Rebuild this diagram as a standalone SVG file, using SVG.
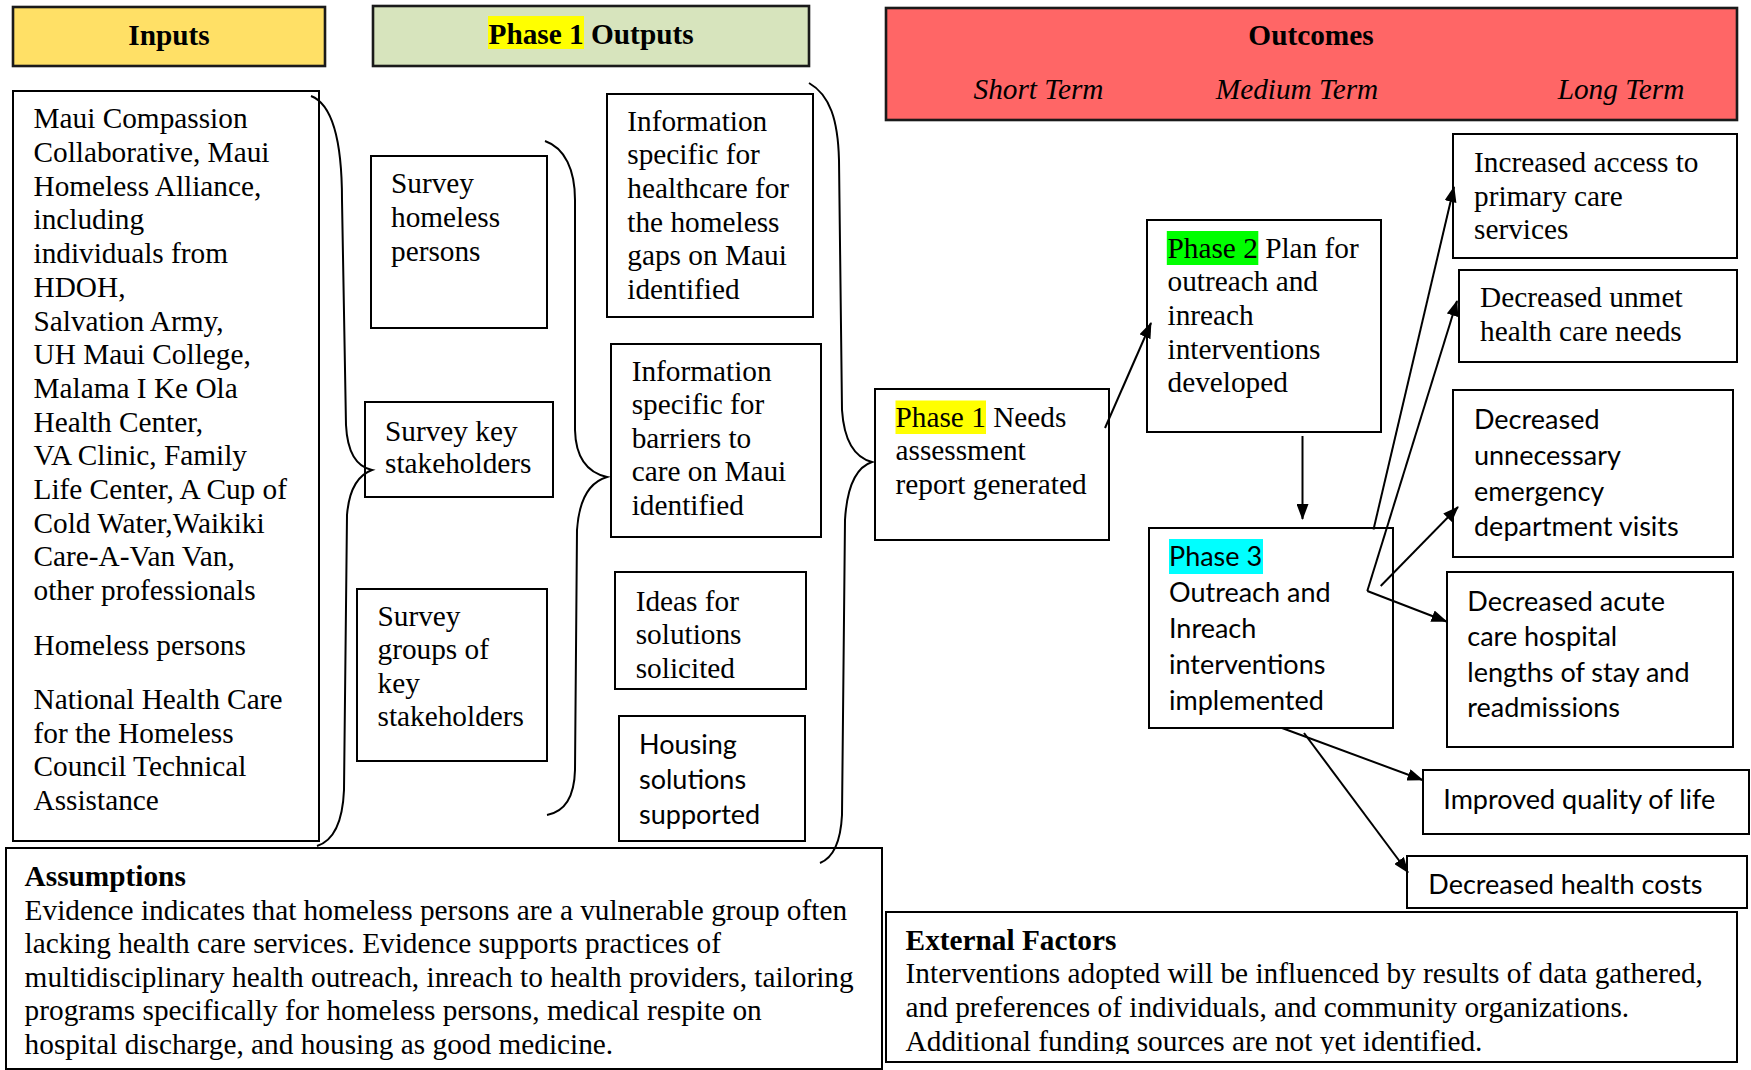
<svg xmlns="http://www.w3.org/2000/svg" width="1751" height="1070" viewBox="0 0 1751 1070">
<style>
.box{fill:#fff;stroke:#000;stroke-width:2}
.hdr{stroke:#1a1a1a;stroke-width:2.6}
.t{font-family:"Liberation Serif","Times New Roman",serif;font-size:29.3px;fill:#000}
.s{font-family:Lato,"Liberation Sans",sans-serif;font-size:27px;fill:#000}
.b{font-weight:bold}
.i{font-style:italic}
.conn{stroke:#000;stroke-width:2;fill:none}
.brace{stroke:#000;stroke-width:2;fill:none}
</style>
<defs>
<marker id="ah" markerWidth="16" markerHeight="12" refX="15" refY="6" orient="auto" markerUnits="userSpaceOnUse"><path d="M0,0 L16,6 L0,12 z" fill="#000"/></marker>
<clipPath id="extclip"><rect x="886" y="912" width="851" height="142"/></clipPath>
</defs>
<rect width="1751" height="1070" fill="#fff"/>

<g id="hdr-inputs">
<rect class="hdr" x="13" y="7" width="312" height="59" fill="#FFE066"/>
<text class="t b" x="169" y="45" text-anchor="middle">Inputs</text>
</g>
<g id="hdr-outputs">
<rect class="hdr" x="373" y="6" width="436" height="60" fill="#D7E4BD"/>
<rect x="488" y="16" width="96" height="33" fill="#FFFF00"/>
<text class="t b" x="488.5" y="44">Phase 1 Outputs</text>
</g>
<g id="hdr-outcomes">
<rect class="hdr" x="886" y="8" width="851" height="112" fill="#FF6666"/>
<text class="t b" x="1311" y="45" text-anchor="middle">Outcomes</text>
<text class="t i" x="1038.5" y="98.5" text-anchor="middle">Short Term</text>
<text class="t i" x="1297" y="98.5" text-anchor="middle">Medium Term</text>
<text class="t i" x="1621" y="98.5" text-anchor="middle">Long Term</text>
</g>

<g id="inputs">
<rect class="box" x="13" y="91" width="306" height="750"/>
<text class="t" x="33.5">
<tspan x="33.5" y="128.3">Maui Compassion</tspan>
<tspan x="33.5" y="162">Collaborative, Maui</tspan>
<tspan x="33.5" y="195.7">Homeless Alliance,</tspan>
<tspan x="33.5" y="229.4">including</tspan>
<tspan x="33.5" y="263.1">individuals from</tspan>
<tspan x="33.5" y="296.8">HDOH,</tspan>
<tspan x="33.5" y="330.5">Salvation Army,</tspan>
<tspan x="33.5" y="364.2">UH Maui College,</tspan>
<tspan x="33.5" y="397.9">Malama I Ke Ola</tspan>
<tspan x="33.5" y="431.6">Health Center,</tspan>
<tspan x="33.5" y="465.3">VA Clinic, Family</tspan>
<tspan x="33.5" y="499">Life Center, A Cup of</tspan>
<tspan x="33.5" y="532.7">Cold Water,Waikiki</tspan>
<tspan x="33.5" y="566.4">Care-A-Van Van,</tspan>
<tspan x="33.5" y="600.1">other professionals</tspan>
<tspan x="33.5" y="654.5">Homeless persons</tspan>
<tspan x="33.5" y="709">National Health Care</tspan>
<tspan x="33.5" y="742.7">for the Homeless</tspan>
<tspan x="33.5" y="776.4">Council Technical</tspan>
<tspan x="33.5" y="810.1">Assistance</tspan>
</text>
</g>

<g id="survey-homeless">
<rect class="box" x="371" y="156" width="176" height="172"/>
<text class="t"><tspan x="391" y="192.5">Survey</tspan><tspan x="391" y="226.5">homeless</tspan><tspan x="391" y="260.5">persons</tspan></text>
</g>
<g id="survey-key">
<rect class="box" x="365" y="402" width="188" height="95"/>
<text class="t"><tspan x="385" y="440.5">Survey key</tspan><tspan x="385" y="472.5">stakeholders</tspan></text>
</g>
<g id="survey-groups">
<rect class="box" x="357" y="589" width="190" height="172"/>
<text class="t"><tspan x="377.5" y="625.5">Survey</tspan><tspan x="377.5" y="659">groups of</tspan><tspan x="377.5" y="692.5">key</tspan><tspan x="377.5" y="726">stakeholders</tspan></text>
</g>

<g id="info-healthcare">
<rect class="box" x="607" y="94" width="206" height="223"/>
<text class="t"><tspan x="627.3" y="130.5">Information</tspan><tspan x="627.3" y="164.2">specific for</tspan><tspan x="627.3" y="197.9">healthcare for</tspan><tspan x="627.3" y="231.6">the homeless</tspan><tspan x="627.3" y="265.3">gaps on Maui</tspan><tspan x="627.3" y="299">identified</tspan></text>
</g>
<g id="info-barriers">
<rect class="box" x="611" y="344" width="210" height="193"/>
<text class="t"><tspan x="631.7" y="380.5">Information</tspan><tspan x="631.7" y="414">specific for</tspan><tspan x="631.7" y="447.5">barriers to</tspan><tspan x="631.7" y="481">care on Maui</tspan><tspan x="631.7" y="514.5">identified</tspan></text>
</g>
<g id="ideas">
<rect class="box" x="615" y="572" width="191" height="117"/>
<text class="t"><tspan x="635.7" y="610.5">Ideas for</tspan><tspan x="635.7" y="644">solutions</tspan><tspan x="635.7" y="677.5">solicited</tspan></text>
</g>
<g id="housing">
<rect class="box" x="619" y="716" width="186" height="125"/>
<text class="s"><tspan x="639" y="754">Housing</tspan><tspan x="639" y="789.2">solutions</tspan><tspan x="639" y="824.4">supported</tspan></text>
</g>

<g id="needs">
<rect class="box" x="875" y="389" width="234" height="151"/>
<rect x="895.5" y="400.5" width="90.5" height="33.5" fill="#FFFF00"/>
<text class="t"><tspan x="895.5" y="426.5">Phase 1 Needs</tspan><tspan x="895.5" y="460.2">assessment</tspan><tspan x="895.5" y="494">report generated</tspan></text>
</g>
<g id="phase2">
<rect class="box" x="1147" y="220" width="234" height="212"/>
<rect x="1166.8" y="231" width="91.5" height="34" fill="#00FF00"/>
<text class="t"><tspan x="1167.5" y="257.5">Phase 2 Plan for</tspan><tspan x="1167.5" y="291.2">outreach and</tspan><tspan x="1167.5" y="324.9">inreach</tspan><tspan x="1167.5" y="358.6">interventions</tspan><tspan x="1167.5" y="392.3">developed</tspan></text>
</g>
<g id="phase3">
<rect class="box" x="1149" y="528" width="244" height="200"/>
<rect x="1169" y="539" width="94" height="35" fill="#00FFFF"/>
<text class="s"><tspan x="1169" y="565.5">Phase 3</tspan><tspan x="1169" y="601.5">Outreach and</tspan><tspan x="1169" y="637.5">Inreach</tspan><tspan x="1169" y="673.5">interventions</tspan><tspan x="1169" y="709.5">implemented</tspan></text>
</g>

<g id="access">
<rect class="box" x="1453" y="134" width="284" height="124"/>
<text class="t"><tspan x="1474" y="172">Increased access to</tspan><tspan x="1474" y="205.5">primary care</tspan><tspan x="1474" y="239">services</tspan></text>
</g>
<g id="unmet">
<rect class="box" x="1459" y="270" width="278" height="92"/>
<text class="t"><tspan x="1480" y="307.2">Decreased unmet</tspan><tspan x="1480" y="340.9">health care needs</tspan></text>
</g>
<g id="ed">
<rect class="box" x="1453" y="390" width="280" height="167"/>
<text class="s"><tspan x="1474" y="429">Decreased</tspan><tspan x="1474" y="464.8">unnecessary</tspan><tspan x="1474" y="500.6">emergency</tspan><tspan x="1474" y="536.4">department visits</tspan></text>
</g>
<g id="acute">
<rect class="box" x="1447" y="572" width="286" height="175"/>
<text class="s"><tspan x="1467.3" y="610.5">Decreased acute</tspan><tspan x="1467.3" y="646.1">care hospital</tspan><tspan x="1467.3" y="681.7">lengths of stay and</tspan><tspan x="1467.3" y="717.3">readmissions</tspan></text>
</g>
<g id="improved">
<rect class="box" x="1423" y="770" width="326" height="64"/>
<text class="s" x="1443.3" y="809">Improved quality of life</text>
</g>
<g id="costs">
<rect class="box" x="1407" y="856" width="340" height="52"/>
<text class="s" x="1428.3" y="893.5">Decreased health costs</text>
</g>

<g id="assumptions">
<rect class="box" x="6" y="848" width="876" height="221"/>
<text class="t"><tspan class="b" x="24.6" y="886">Assumptions</tspan><tspan x="24.6" y="919.5">Evidence indicates that homeless persons are a vulnerable group often</tspan><tspan x="24.6" y="953">lacking health care services. Evidence supports practices of</tspan><tspan x="24.6" y="986.5">multidisciplinary health outreach, inreach to health providers, tailoring</tspan><tspan x="24.6" y="1020">programs specifically for homeless persons, medical respite on</tspan><tspan x="24.6" y="1053.5">hospital discharge, and housing as good medicine.</tspan></text>
</g>
<g id="external">
<rect class="box" x="886" y="912" width="851" height="150"/>
<text class="t" clip-path="url(#extclip)"><tspan class="b" x="905.6" y="949.5">External Factors</tspan><tspan x="905.6" y="983">Interventions adopted will be influenced by results of data gathered,</tspan><tspan x="905.6" y="1017">and preferences of individuals, and community organizations.</tspan><tspan x="905.6" y="1051">Additional funding sources are not yet identified.</tspan></text>
</g>

<g id="connectors">
<path class="brace" d="M311 96 C332 104,342 140,342 200 L346 425 Q348 465 372 470 Q350 478 347 515 L344 790 Q342 838 317 846"/>
<path class="brace" d="M545 141 C565 148,575 170,575 200 L575 430 Q576 470 607 477 Q580 485 577 530 L575 770 Q574 810 547 815"/>
<path class="brace" d="M809 83 C830 95,838 120,839 160 L842 410 Q845 455 872 462 Q848 470 845 520 L842 815 Q840 855 820 863"/>
<line class="conn" x1="1105" y1="428" x2="1151" y2="323" marker-end="url(#ah)"/>
<line class="conn" x1="1302.5" y1="436" x2="1302.5" y2="519" marker-end="url(#ah)"/>
<line class="conn" x1="1373.5" y1="529.5" x2="1454" y2="187" marker-end="url(#ah)"/>
<line class="conn" x1="1367.3" y1="591" x2="1457" y2="301" marker-end="url(#ah)"/>
<line class="conn" x1="1367.3" y1="591" x2="1446.5" y2="621.5" marker-end="url(#ah)"/>
<line class="conn" x1="1380.7" y1="586" x2="1458" y2="507" marker-end="url(#ah)"/>
<line class="conn" x1="1282" y1="728" x2="1422.5" y2="780" marker-end="url(#ah)"/>
<line class="conn" x1="1304" y1="733" x2="1408" y2="872.5" marker-end="url(#ah)"/>
</g>
</svg>
